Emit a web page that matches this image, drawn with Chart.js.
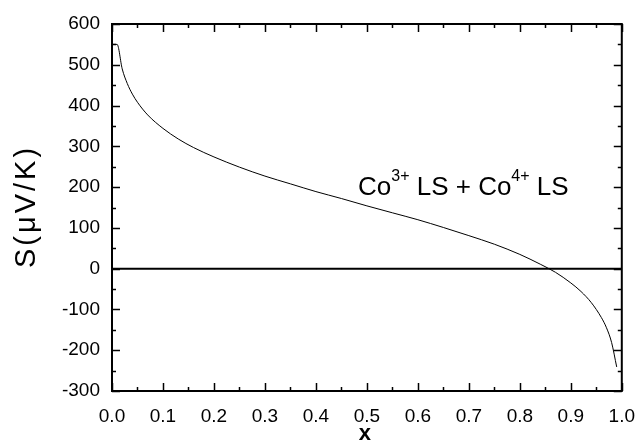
<!DOCTYPE html>
<html>
<head>
<meta charset="utf-8">
<script src="https://cdn.jsdelivr.net/npm/chart.js@4.4.0/dist/chart.umd.min.js"></script>
<style>
  html, body { margin: 0; padding: 0; background: #fff; }
  #wrap { width: 641px; height: 441px; }
</style>
</head>
<body>
<div id="wrap"><canvas id="chart" width="641" height="441"></canvas></div>
<script>
// x = Co4+ fraction, S in uV/K
const xValues = [0, 0.01, 0.02, 0.03, 0.04, 0.05, 0.07, 0.1, 0.13, 0.16, 0.2, 0.25, 0.3, 0.35, 0.4,
  0.45, 0.5, 0.55, 0.6, 0.65, 0.7, 0.75, 0.8, 0.84, 0.87, 0.9, 0.92, 0.94, 0.96, 0.97, 0.98, 0.99];
const sValues = [550, 550, 490, 454, 428, 408, 377, 344, 318, 297, 274, 249, 227, 208, 189,
  172, 154, 137, 120, 101, 81, 60, 35, 11, -9, -35, -56, -83, -120, -145, -181, -241];
const zeroLine = [0, 0];
const zeroX = [0, 1];
const annotation = [
  { text: 'Co', sup: false }, { text: '3+', sup: true }, { text: ' LS + Co', sup: false },
  { text: '4+', sup: true }, { text: ' LS', sup: false }
];

const FONT = '"Liberation Sans", Arial, Helvetica, sans-serif';

// frame, inward ticks, axis titles and the label in the plot
const framePlugin = {
  id: 'frame',
  afterDraw(chart) {
    const { ctx, chartArea: a, scales } = chart;
    const xs = scales.x, ys = scales.y;
    ctx.save();
    ctx.strokeStyle = '#000';
    ctx.lineWidth = 2;
    ctx.strokeRect(a.left, a.top, a.right - a.left, a.bottom - a.top);

    ctx.lineWidth = 1.5;
    ctx.beginPath();
    for (let i = 0; i <= 20; i++) {
      const v = i * 0.05;
      const px = Math.round(xs.getPixelForValue(v)) + 0.5;
      const len = i % 2 === 0 ? 8 : 4;
      ctx.moveTo(px, a.bottom); ctx.lineTo(px, a.bottom - len);
      ctx.moveTo(px, a.top); ctx.lineTo(px, a.top + len);
    }
    for (let i = 0; i <= 18; i++) {
      const v = -300 + i * 50;
      const py = Math.round(ys.getPixelForValue(v)) + 0.5;
      const len = i % 2 === 0 ? 8 : 4;
      ctx.moveTo(a.left, py); ctx.lineTo(a.left + len, py);
      ctx.moveTo(a.right, py); ctx.lineTo(a.right - len, py);
    }
    ctx.stroke();

    // y axis title
    ctx.fillStyle = '#000';
    ctx.save();
    ctx.translate(27, (a.top + a.bottom) / 2 - 1);
    ctx.rotate(-Math.PI / 2);
    ctx.font = '29px ' + FONT;
    ctx.letterSpacing = '3px';
    ctx.textAlign = 'center';
    ctx.textBaseline = 'middle';
    ctx.fillText('S(\u03bcV/K)', 0, 0);
    ctx.restore();

    // x axis title
    ctx.font = 'bold 22px ' + FONT;
    ctx.textAlign = 'center';
    ctx.textBaseline = 'alphabetic';
    ctx.fillText('x', (a.left + a.right) / 2 - 2, 440);

    // label
    let x = 358;
    const base = 195;
    ctx.textAlign = 'left';
    annotation.forEach(p => {
      ctx.font = (p.sup ? '16px ' : '26px ') + FONT;
      ctx.fillText(p.text, x, p.sup ? base - 14 : base);
      x += ctx.measureText(p.text).width;
    });
    ctx.restore();
  }
};

new Chart(document.getElementById('chart'), {
  type: 'line',
  data: {
    datasets: [
      {
        data: xValues.map((x, i) => ({ x: x, y: sValues[i] })),
        borderColor: '#000',
        borderWidth: 1,
        pointRadius: 0,
        cubicInterpolationMode: 'monotone',
        fill: false
      },
      {
        data: zeroX.map((x, i) => ({ x: x, y: zeroLine[i] })),
        borderColor: '#000',
        borderWidth: 2,
        pointRadius: 0,
        fill: false
      }
    ]
  },
  options: {
    responsive: false,
    animation: false,
    layout: { padding: { top: 24, right: 16, left: 0, bottom: 0 } },
    plugins: { legend: { display: false }, tooltip: { enabled: false } },
    scales: {
      x: {
        type: 'linear',
        min: 0,
        max: 1,
        grid: { display: false },
        border: { display: false },
        afterFit: s => { s.height = 50; },
        ticks: {
          stepSize: 0.1,
          autoSkip: false,
          maxRotation: 0,
          padding: 6,
          color: '#000',
          font: { family: FONT, size: 19 },
          callback: v => Number(v).toFixed(1)
        }
      },
      y: {
        min: -300,
        max: 600,
        grid: { display: false },
        border: { display: false },
        afterFit: s => { s.width = 112; },
        ticks: {
          stepSize: 100,
          padding: 4,
          color: '#000',
          font: { family: FONT, size: 19 }
        }
      }
    }
  },
  plugins: [framePlugin]
});
</script>
</body>
</html>
